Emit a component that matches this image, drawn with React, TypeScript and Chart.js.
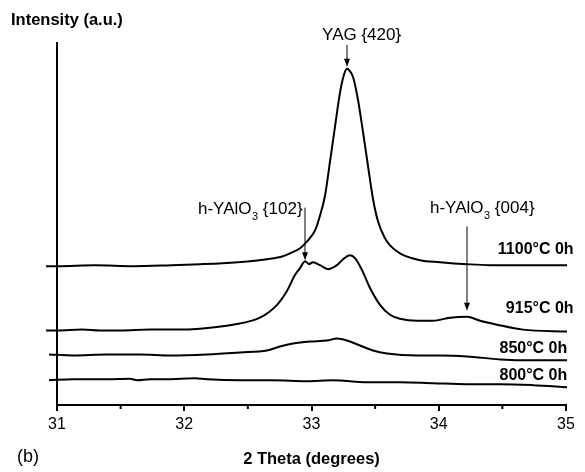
import React, { useEffect, useRef } from 'react';
import { Chart, registerables } from 'chart.js';

Chart.register(...registerables);

const FONT = '"Liberation Sans", Arial, Helvetica, sans-serif';

const xMin = 31;
const xMax = 35;
const yMin = 0;
const yMax = 365;

const seriesNames = ['1100°C 0h', '915°C 0h', '850°C 0h', '800°C 0h'];

const x1100 = [30.914, 31.0, 31.3, 31.6, 31.9, 32.124, 32.3, 32.517, 32.65, 32.776, 32.85, 32.91, 32.965, 33.028, 33.067, 33.106, 33.145, 33.185, 33.224, 33.255, 33.279, 33.3, 33.326, 33.365, 33.405, 33.444, 33.483, 33.523, 33.578, 33.617, 33.695, 33.853, 34.01, 34.222, 34.403, 34.662, 35.008];
const y1100 = [140, 140, 141, 140, 141, 142, 143, 145, 147, 150, 154, 158, 165, 176, 191, 211, 245, 281, 315, 333, 339, 337, 331, 308, 275, 241, 208, 185, 168, 161, 153, 146, 144, 142, 141, 141, 141];

const x915 = [30.914, 31.0, 31.2, 31.338, 31.5, 31.731, 31.95, 32.124, 32.383, 32.595, 32.729, 32.807, 32.87, 32.91, 32.949, 32.98, 33.012, 33.067, 33.13, 33.2, 33.248, 33.303, 33.342, 33.397, 33.46, 33.538, 33.617, 33.695, 33.829, 33.955, 34.088, 34.222, 34.324, 34.458, 34.662, 35.008];
const y915 = [75, 75, 76, 75, 75, 76, 76, 77, 81, 88, 101, 115, 131, 138, 145, 142, 144, 141, 137, 141, 147, 151, 148, 136, 118, 101, 91, 87, 85, 85, 88, 89, 85, 81, 76, 74];

const x850 = [30.937, 31.126, 31.393, 31.652, 31.888, 32.179, 32.438, 32.65, 32.752, 32.855, 32.988, 33.122, 33.2, 33.279, 33.381, 33.483, 33.593, 33.829, 34.01, 34.222, 34.481, 34.741, 35.008];
const y850 = [51, 50, 51, 51, 50, 51, 53, 55, 59, 62, 64, 65, 67, 65, 60, 55, 52, 50, 50, 49, 46, 45, 45];

const x800 = [30.937, 31.126, 31.393, 31.574, 31.629, 31.731, 31.864, 32.084, 32.179, 32.438, 32.697, 32.965, 33.169, 33.436, 33.695, 33.955, 34.222, 34.481, 34.741, 35.008];
const y800 = [25, 26, 26, 26.5, 25, 26, 26, 27, 26, 25, 25, 24, 25, 23, 23, 22, 21, 21, 20, 18];

const seriesX = [x1100, x915, x850, x800];
const seriesY = [y1100, y915, y850, y800];

// series labels: right edge x (deg), middle y (a.u.)
const labelRightX = [35.06, 35.06, 35.01, 35.01];
const labelMidY = [157, 97, 57, 30];

// peak annotations
const annoMain = ['YAG {420}', 'h-YAlO', 'h-YAlO'];
const annoSub = ['', '3', '3'];
const annoTail = ['', ' {102}', ' {004}'];
const annoLeftX = [33.083, 32.108, 33.931];
const annoMidY = [373, 197, 198];
const arrowX = [33.279, 32.949, 34.222];
const arrowFromY = [363, 199, 180];
const arrowToY = [341, 146, 95];

const overlayPlugin = {
  id: 'overlay',
  afterDraw(chart: any) {
    const { ctx, chartArea } = chart;
    const xs = chart.scales.x;
    const ys = chart.scales.y;
    ctx.save();
    ctx.fillStyle = '#000';
    ctx.strokeStyle = '#000';

    // minor ticks (shorter)
    ctx.lineWidth = 2;
    for (const t of xs.ticks) {
      if (Math.abs(t.value % 1) > 1e-6) {
        const px = xs.getPixelForValue(t.value);
        ctx.beginPath();
        ctx.moveTo(px, chartArea.bottom);
        ctx.lineTo(px, chartArea.bottom + 4);
        ctx.stroke();
      }
    }

    ctx.textBaseline = 'middle';

    // axis title (top-left)
    ctx.font = `bold 16.5px ${FONT}`;
    ctx.textAlign = 'left';
    ctx.fillText('Intensity (a.u.)', chartArea.left - 46, chartArea.top - 23);

    // panel label
    ctx.font = `18px ${FONT}`;
    ctx.fillText('(b)', chartArea.left - 40, chartArea.bottom + 52);

    // series labels
    ctx.font = `bold 16px ${FONT}`;
    ctx.textAlign = 'right';
    for (let i = 0; i < seriesNames.length; i++) {
      ctx.fillText(seriesNames[i], xs.getPixelForValue(labelRightX[i]), ys.getPixelForValue(labelMidY[i]));
    }

    // annotations
    ctx.textAlign = 'left';
    for (let i = 0; i < annoMain.length; i++) {
      let px = xs.getPixelForValue(annoLeftX[i]);
      const py = ys.getPixelForValue(annoMidY[i]);
      ctx.font = `17px ${FONT}`;
      ctx.fillText(annoMain[i], px, py);
      px += ctx.measureText(annoMain[i]).width;
      if (annoSub[i]) {
        ctx.font = `11px ${FONT}`;
        ctx.fillText(annoSub[i], px + 0.5, py + 7);
        px += ctx.measureText(annoSub[i]).width + 0.5;
      }
      if (annoTail[i]) {
        ctx.font = `17px ${FONT}`;
        ctx.fillText(annoTail[i], px, py);
      }
      // arrow
      const ax = xs.getPixelForValue(arrowX[i]);
      const ay0 = ys.getPixelForValue(arrowFromY[i]);
      const ay1 = ys.getPixelForValue(arrowToY[i]);
      ctx.lineWidth = 1;
      ctx.beginPath();
      ctx.moveTo(ax, ay0);
      ctx.lineTo(ax, ay1 - 7);
      ctx.stroke();
      ctx.beginPath();
      ctx.moveTo(ax - 3, ay1 - 8);
      ctx.lineTo(ax + 3, ay1 - 8);
      ctx.lineTo(ax, ay1);
      ctx.closePath();
      ctx.fill();
    }
    ctx.restore();
  },
};

export default function App() {
  const canvasRef = useRef<HTMLCanvasElement>(null);

  useEffect(() => {
    document.body.style.margin = '0';
    const canvas = canvasRef.current;
    if (!canvas) return;
    const datasets = seriesNames.map((name, i) => ({
      label: name,
      data: seriesX[i].map((xv, j) => ({ x: xv, y: seriesY[i][j] })),
      borderColor: '#000',
      borderWidth: 2,
      pointRadius: 0,
      fill: false,
      cubicInterpolationMode: 'monotone' as const,
      clip: false as any,
    }));
    const chart = new Chart(canvas, {
      type: 'line',
      data: { datasets },
      options: {
        responsive: false,
        animation: false,
        layout: { padding: { left: 57, right: 19, top: 43, bottom: 3 } },
        plugins: {
          legend: { display: false },
          tooltip: { enabled: false },
        },
        scales: {
          x: {
            type: 'linear',
            min: xMin,
            max: xMax,
            ticks: {
              stepSize: 0.5,
              autoSkip: false,
              maxRotation: 0,
              padding: 4,
              color: '#000',
              font: { family: FONT, size: 16 },
              callback: (v: any) => (Number(v) % 1 === 0 ? String(v) : ''),
            },
            grid: {
              display: true,
              drawOnChartArea: false,
              drawTicks: true,
              tickLength: 6,
              color: '#000',
              tickColor: (c: any) => (c.tick && Math.abs(c.tick.value % 1) > 1e-6 ? 'rgba(0,0,0,0)' : '#000'),
              lineWidth: 2,
            },
            border: { display: true, color: '#000', width: 2 },
            title: {
              display: true,
              text: '2 Theta (degrees)',
              color: '#000',
              font: { family: FONT, size: 16.5, weight: 'bold' },
              padding: { top: 11, bottom: 0 },
            },
          },
          y: {
            type: 'linear',
            min: yMin,
            max: yMax,
            ticks: { display: false },
            grid: { display: false, drawTicks: false },
            border: { display: true, color: '#000', width: 2 },
          },
        },
      },
      plugins: [overlayPlugin],
    });
    return () => chart.destroy();
  }, []);

  return <canvas ref={canvasRef} width={585} height={472} style={{ display: 'block' }} />;
}
